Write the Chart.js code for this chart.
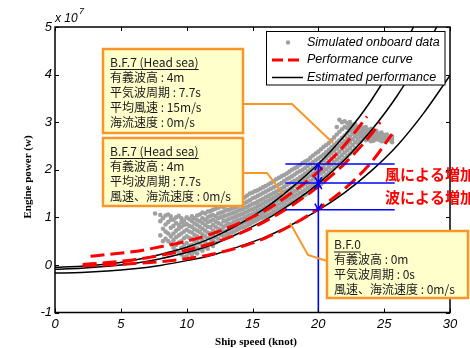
<!DOCTYPE html>
<html>
<head>
<meta charset="utf-8">
<script src="https://cdn.jsdelivr.net/npm/chart.js@4.4.1/dist/chart.umd.min.js"></script>
<style>
  html, body { margin: 0; padding: 0; background: #ffffff; }
  #wrap { width: 470px; height: 348px; position: relative; }
</style>
</head>
<body>
<div id="wrap"><canvas id="c" width="470" height="348"></canvas></div>
<script>
// Axis ticks
const xTicks = [0, 5, 10, 15, 20, 25, 30];
const yTicks = [-1, 0, 1, 2, 3, 4, 5];

// Estimated performance (black), power in units of 1e7 W
const estSpeed = [0, 2, 4, 6, 8, 10, 12, 14, 16, 18, 20, 22, 24, 26, 28, 30];
const estHigh  = [-0.05, -0.03, 0.02, 0.10, 0.22, 0.37, 0.58, 0.86, 1.20, 1.63, 2.12, 2.72, 3.45, 4.35, 5.45, 6.75];
const estMid   = [-0.09, -0.07, -0.03, 0.03, 0.13, 0.26, 0.43, 0.67, 0.95, 1.30, 1.71, 2.21, 2.82, 3.56, 4.48, 5.55];
const estLow   = [-0.17, -0.16, -0.13, -0.08, -0.01, 0.09, 0.21, 0.39, 0.59, 0.85, 1.15, 1.52, 1.97, 2.51, 3.19, 3.98];

// Performance curves (red dashed)
const perfHighSpeed = [2.7, 4, 6, 8, 10, 12, 14, 16, 18, 20, 22, 23.7];
const perfHigh      = [0.18, 0.22, 0.28, 0.38, 0.50, 0.66, 0.88, 1.15, 1.52, 1.96, 2.52, 3.12];
const perfMidSpeed  = [2.1, 4, 6, 8, 10, 12, 14, 16, 18, 20, 22, 24, 24.7];
const perfMid       = [0.01, 0.05, 0.11, 0.20, 0.31, 0.46, 0.66, 0.92, 1.25, 1.65, 2.13, 2.74, 3.00];
const perfLowSpeed  = [2.1, 4, 6, 8, 10, 12, 14, 16, 18, 20, 22, 24, 25.6];
const perfLow       = [-0.02, 0.00, 0.03, 0.07, 0.13, 0.23, 0.37, 0.57, 0.84, 1.18, 1.60, 2.15, 2.75];

// Reference levels at 20 knots (B.F.7 wind+wave, B.F.7 wave, B.F.0)
const refSpeed = 20;
const refLevels = [2.12, 1.72, 1.16];
const refSpan = [17.5, 25.8];

// Simulated onboard data [speed (knot), power (1e7 W)]
const onboardRunA = [
  [7.6,1.08],
  [8.0,1.05],[8.0,0.92],[8.0,0.62],
  [8.4,1.04],[8.4,0.85],[8.4,0.70],[8.4,0.55],
  [8.8,1.02],[8.8,0.95],[8.8,0.78],[8.8,0.60],[8.8,0.45],
  [9.2,1.00],[9.2,0.88],[9.2,0.72],[9.2,0.58],[9.2,0.42],[9.2,0.30],
  [9.6,0.98],[9.6,0.90],[9.6,0.80],[9.6,0.66],[9.6,0.50],[9.6,0.36],[9.6,0.22],
  [10.0,1.00],[10.0,0.86],[10.0,0.74],[10.0,0.60],[10.0,0.46],[10.0,0.34],[10.0,0.18],
  [10.4,1.02],[10.4,0.92],[10.4,0.80],[10.4,0.68],[10.4,0.55],[10.4,0.42],[10.4,0.30],[10.4,0.20],
  [10.8,1.04],[10.8,0.94],[10.8,0.84],[10.8,0.72],[10.8,0.60],[10.8,0.48],[10.8,0.36],[10.8,0.24],
  [11.2,1.10],[11.2,0.98],[11.2,0.88],[11.2,0.76],[11.2,0.64],[11.2,0.52],[11.2,0.40],[11.2,0.30],
  [11.6,1.12],[11.6,1.00],[11.6,0.90],[11.6,0.80],[11.6,0.68],[11.6,0.56],[11.6,0.44],[11.6,0.34],
  [12.0,1.16],[12.0,1.05],[12.0,0.95],[12.0,0.84],[12.0,0.72],[12.0,0.60],[12.0,0.50],[12.0,0.40],
  [12.4,1.20],[12.4,1.08],[12.4,0.98],[12.4,0.88],[12.4,0.76],[12.4,0.66],[12.4,0.55],
  [12.8,1.22],[12.8,1.12],[12.8,1.02],[12.8,0.92],[12.8,0.80],[12.8,0.70],[12.8,0.60],
  [13.2,1.28],[13.2,1.16],[13.2,1.06],[13.2,0.96],[13.2,0.86],[13.2,0.75],[13.2,0.65],
  [13.6,1.30],[13.6,1.20],[13.6,1.10],[13.6,1.00],[13.6,0.90],[13.6,0.80],[13.6,0.70],
  [14.0,1.36],[14.0,1.25],[14.0,1.15],[14.0,1.05],[14.0,0.95],[14.0,0.85],[14.0,0.76],
  [14.4,1.42],[14.4,1.30],[14.4,1.20],[14.4,1.10],[14.4,1.00],[14.4,0.90],[14.4,0.80],
  [14.8,1.50],[14.8,1.36],[14.8,1.25],[14.8,1.15],[14.8,1.05],[14.8,0.95],[14.8,0.86],
  [15.2,1.55],[15.2,1.42],[15.2,1.30],[15.2,1.20],[15.2,1.10],[15.2,1.00],[15.2,0.92],
  [15.6,1.60],[15.6,1.48],[15.6,1.36],[15.6,1.26],[15.6,1.16],[15.6,1.06],[15.6,0.98],
  [16.0,1.66],[16.0,1.54],[16.0,1.42],[16.0,1.32],[16.0,1.22],[16.0,1.12],[16.0,1.02],
  [16.4,1.72],[16.4,1.60],[16.4,1.48],[16.4,1.38],[16.4,1.28],[16.4,1.18],[16.4,1.08],
  [16.8,1.80],[16.8,1.66],[16.8,1.54],[16.8,1.44],[16.8,1.34],[16.8,1.24],[16.8,1.14],
  [17.2,1.86],[17.2,1.72],[17.2,1.60],[17.2,1.50],[17.2,1.40],[17.2,1.30],[17.2,1.20],
  [17.6,1.92],[17.6,1.80],[17.6,1.68],[17.6,1.56],[17.6,1.46],[17.6,1.36],[17.6,1.26],
  [18.0,2.00],[18.0,1.86],[18.0,1.74],[18.0,1.62],[18.0,1.52],[18.0,1.42],[18.0,1.32],
  [18.4,2.06],[18.4,1.94],[18.4,1.80],[18.4,1.70],[18.4,1.58],[18.4,1.48],[18.4,1.38],
  [18.8,2.14],[18.8,2.00],[18.8,1.88],[18.8,1.76],[18.8,1.66],[18.8,1.54],[18.8,1.44],
  [19.2,2.20],[19.2,2.08],[19.2,1.96],[19.2,1.84],[19.2,1.72],[19.2,1.62],[19.2,1.50],
  [19.6,2.30],[19.6,2.16],[19.6,2.04],[19.6,1.92],[19.6,1.80],[19.6,1.68],[19.6,1.58],
  [20.0,2.38],[20.0,2.24],[20.0,2.12],[20.0,2.00],[20.0,1.88],[20.0,1.76],[20.0,1.66],
  [20.4,2.48],[20.4,2.32],[20.4,2.20],[20.4,2.08],[20.4,1.96],[20.4,1.84],[20.4,1.74],
  [20.8,2.56],[20.8,2.42],[20.8,2.30],[20.8,2.18],[20.8,2.06],[20.8,1.94],
  [21.2,2.68],[21.2,2.52],[21.2,2.40],[21.2,2.28],[21.2,2.16],[21.2,2.04],
  [21.6,3.05],[21.6,2.80],[21.6,2.62],[21.6,2.50],[21.6,2.38],[21.6,2.26],[21.6,2.14],
  [22.0,3.02],[22.0,2.90],[22.0,2.72],[22.0,2.60],[22.0,2.48],[22.0,2.36],[22.0,2.24],
  [22.4,3.00],[22.4,2.92],[22.4,2.82],[22.4,2.70],[22.4,2.58],[22.4,2.46],[22.4,2.34],
  [22.8,2.96],[22.8,2.88],[22.8,2.80],[22.8,2.70],[22.8,2.58],[22.8,2.46],
  [23.2,2.92],[23.2,2.85],[23.2,2.78],[23.2,2.70],[23.2,2.60],
  [23.6,2.90],[23.6,2.82],[23.6,2.75],[23.6,2.68],[23.6,2.62],
  [24.0,2.86],[24.0,2.80],[24.0,2.72],[24.0,2.66],[24.0,2.60],
  [24.4,2.82],[24.4,2.76],[24.4,2.70],[24.4,2.64],
  [24.8,2.78],[24.8,2.72],[24.8,2.66],[24.8,2.60],
  [25.2,2.74],[25.2,2.68],[25.2,2.62],
  [25.6,2.70],[25.6,2.64],[25.6,2.58]
];
const onboardRunB = [
  [8.2,0.98],[8.2,0.76],[8.2,0.50],
  [8.6,1.06],[8.6,0.90],[8.6,0.66],[8.6,0.50],
  [9.0,0.95],[9.0,0.82],[9.0,0.66],[9.0,0.52],[9.0,0.36],
  [9.4,1.03],[9.4,0.84],[9.4,0.76],[9.4,0.62],[9.4,0.47],[9.4,0.26],
  [9.8,0.93],[9.8,0.84],[9.8,0.70],[9.8,0.56],[9.8,0.42],[9.8,0.28],[9.8,0.16],
  [10.2,0.96],[10.2,0.82],[10.2,0.70],[10.2,0.57],[10.2,0.40],[10.2,0.25],
  [10.6,0.98],[10.6,0.87],[10.6,0.75],[10.6,0.63],[10.6,0.50],[10.6,0.38],[10.6,0.27],
  [11.0,1.06],[11.0,0.92],[11.0,0.80],[11.0,0.69],[11.0,0.56],[11.0,0.45],[11.0,0.33],
  [11.4,1.08],[11.4,0.95],[11.4,0.84],[11.4,0.72],[11.4,0.60],[11.4,0.48],[11.4,0.37],
  [11.8,1.13],[11.8,1.03],[11.8,0.92],[11.8,0.79],[11.8,0.66],[11.8,0.55],[11.8,0.45],
  [12.2,1.18],[12.2,1.02],[12.2,0.91],[12.2,0.80],[12.2,0.69],[12.2,0.58],[12.2,0.47],
  [12.6,1.23],[12.6,1.10],[12.6,1.00],[12.6,0.85],[12.6,0.74],[12.6,0.63],
  [13.0,1.25],[13.0,1.15],[13.0,1.04],[13.0,0.93],[13.0,0.83],[13.0,0.71],[13.0,0.62],
  [13.4,1.31],[13.4,1.18],[13.4,1.08],[13.4,0.98],[13.4,0.87],[13.4,0.77],[13.4,0.68],
  [13.8,1.33],[13.8,1.22],[13.8,1.12],[13.8,1.02],[13.8,0.92],[13.8,0.82],[13.8,0.73],
  [14.2,1.40],[14.2,1.28],[14.2,1.17],[14.2,1.07],[14.2,0.97],[14.2,0.87],[14.2,0.78],
  [14.6,1.46],[14.6,1.33],[14.6,1.22],[14.6,1.12],[14.6,1.02],[14.6,0.92],[14.6,0.83],
  [15.0,1.52],[15.0,1.40],[15.0,1.28],[15.0,1.17],[15.0,1.07],[15.0,0.97],[15.0,0.89],
  [15.4,1.57],[15.4,1.45],[15.4,1.33],[15.4,1.23],[15.4,1.13],[15.4,1.03],[15.4,0.95],
  [15.8,1.63],[15.8,1.51],[15.8,1.39],[15.8,1.29],[15.8,1.19],[15.8,1.09],[15.8,1.00],
  [16.2,1.69],[16.2,1.57],[16.2,1.45],[16.2,1.35],[16.2,1.25],[16.2,1.15],[16.2,1.05],
  [16.6,1.76],[16.6,1.63],[16.6,1.51],[16.6,1.41],[16.6,1.31],[16.6,1.21],[16.6,1.11],
  [17.0,1.83],[17.0,1.69],[17.0,1.57],[17.0,1.47],[17.0,1.37],[17.0,1.27],[17.0,1.17],
  [17.4,1.89],[17.4,1.76],[17.4,1.64],[17.4,1.53],[17.4,1.43],[17.4,1.33],[17.4,1.23],
  [17.8,1.96],[17.8,1.83],[17.8,1.71],[17.8,1.59],[17.8,1.49],[17.8,1.39],[17.8,1.29],
  [18.2,2.03],[18.2,1.90],[18.2,1.77],[18.2,1.66],[18.2,1.55],[18.2,1.45],[18.2,1.35],
  [18.6,2.10],[18.6,1.97],[18.6,1.84],[18.6,1.73],[18.6,1.62],[18.6,1.51],[18.6,1.41],
  [19.0,2.17],[19.0,2.04],[19.0,1.92],[19.0,1.80],[19.0,1.69],[19.0,1.58],[19.0,1.47],
  [19.4,2.25],[19.4,2.12],[19.4,2.00],[19.4,1.88],[19.4,1.76],[19.4,1.65],[19.4,1.54],
  [19.8,2.34],[19.8,2.20],[19.8,2.08],[19.8,1.96],[19.8,1.84],[19.8,1.72],[19.8,1.62],
  [20.2,2.43],[20.2,2.28],[20.2,2.16],[20.2,2.04],[20.2,1.92],[20.2,1.80],[20.2,1.70],
  [20.6,2.52],[20.6,2.37],[20.6,2.25],[20.6,2.13],[20.6,2.01],[20.6,1.89],
  [21.0,2.62],[21.0,2.47],[21.0,2.35],[21.0,2.23],[21.0,2.11],[21.0,1.99],
  [21.4,2.90],[21.4,2.74],[21.4,2.57],[21.4,2.45],[21.4,2.33],[21.4,2.21],[21.4,2.09],
  [21.8,3.00],[21.8,2.85],[21.8,2.67],[21.8,2.55],[21.8,2.43],[21.8,2.31],[21.8,2.19],
  [22.2,2.98],[22.2,2.88],[22.2,2.77],[22.2,2.65],[22.2,2.53],[22.2,2.41],[22.2,2.29],
  [22.6,2.94],[22.6,2.86],[22.6,2.76],[22.6,2.64],[22.6,2.52],[22.6,2.40],
  [23.0,2.90],[23.0,2.83],[23.0,2.75],[23.0,2.65],[23.0,2.55],
  [23.4,2.88],[23.4,2.80],[23.4,2.72],[23.4,2.65],
  [23.8,2.84],[23.8,2.77],[23.8,2.70],[23.8,2.63],
  [24.2,2.80],[24.2,2.74],[24.2,2.67],[24.2,2.61],
  [24.6,2.76],[24.6,2.70],[24.6,2.63],
  [25.0,2.73],[25.0,2.66],[25.0,2.60],
  [25.4,2.70],[25.4,2.63]
];

const pts = (xs, ys) => xs.map((x, i) => ({ x: x, y: ys[i] }));
const pairs = list => list.map(p => ({ x: p[0], y: p[1] }));

const datasets = [
  { label: 'Simulated onboard data', data: pairs(onboardRunA.concat(onboardRunB)),
    showLine: false, pointRadius: 2.3, pointBackgroundColor: '#a0a0a0', pointBorderWidth: 0, order: 4 },
  ...[estHigh, estMid, estLow].map(ys => ({
    label: 'Estimated performance', data: pts(estSpeed, ys), showLine: true, pointRadius: 0,
    borderColor: '#000000', borderWidth: 1.5, tension: 0.4, cubicInterpolationMode: 'monotone', order: 3 })),
  ...[[perfHighSpeed, perfHigh], [perfMidSpeed, perfMid], [perfLowSpeed, perfLow]].map(([xs, ys]) => ({
    label: 'Performance curve', data: pts(xs, ys), showLine: true, pointRadius: 0,
    borderColor: '#ff0000', borderWidth: 3, borderDash: [14, 6], tension: 0.4, cubicInterpolationMode: 'monotone', order: 2 })),
  ...refLevels.map(v => ({
    label: 'level', data: [{ x: refSpan[0], y: v }, { x: refSpan[1], y: v }], showLine: true, pointRadius: 0,
    borderColor: '#0000ff', borderWidth: 1.6, order: 1 })),
  { label: 'speed', data: [{ x: refSpeed, y: refLevels[0] }, { x: refSpeed, y: -1 }], showLine: true, pointRadius: 0,
    borderColor: '#0000ff', borderWidth: 1.6, order: 1 }
];

const JP = '"Noto Sans CJK JP", "Noto Sans", sans-serif';
const ORANGE = '#fa9628';

function arrowHead(ctx, x, y, dir) {
  // dir: -1 points up, +1 points down
  ctx.beginPath();
  ctx.moveTo(x - 3.5, y - dir * 6);
  ctx.lineTo(x, y);
  ctx.lineTo(x + 3.5, y - dir * 6);
  ctx.stroke();
}

function noteBox(ctx, x0, y0, x1, y1, lines, tx, ty, gap) {
  ctx.save();
  ctx.fillStyle = '#ffffcc';
  ctx.fillRect(x0, y0, x1 - x0, y1 - y0);
  ctx.strokeStyle = ORANGE;
  ctx.lineWidth = 2.5;
  ctx.strokeRect(x0, y0, x1 - x0, y1 - y0);
  ctx.fillStyle = '#1a1a1a';
  ctx.font = '12px ' + JP;
  ctx.textBaseline = 'middle';
  ctx.textAlign = 'left';
  lines.forEach((t, i) => {
    const y = ty + i * gap;
    ctx.fillText(t, tx, y);
    if (i === 0) {
      const w = ctx.measureText(t).width;
      ctx.fillRect(tx, y + 7, w, 1);
    }
  });
  ctx.restore();
}

function polyline(ctx, pts, color, width) {
  ctx.save();
  ctx.strokeStyle = color;
  ctx.lineWidth = width;
  ctx.beginPath();
  pts.forEach((p, i) => i ? ctx.lineTo(p[0], p[1]) : ctx.moveTo(p[0], p[1]));
  ctx.stroke();
  ctx.restore();
}

const decorations = {
  id: 'decorations',
  afterDatasetsDraw(chart) {
    const ctx = chart.ctx;
    const a = chart.chartArea;
    const xs = chart.scales.x, ys = chart.scales.y;

    // frame and inward ticks
    ctx.save();
    ctx.strokeStyle = '#000000';
    ctx.lineWidth = 1.5;
    ctx.strokeRect(a.left, a.top, a.right - a.left, a.bottom - a.top);
    ctx.lineWidth = 1;
    ctx.beginPath();
    xTicks.forEach(t => {
      const px = Math.round(xs.getPixelForValue(t)) + 0.5;
      ctx.moveTo(px, a.bottom); ctx.lineTo(px, a.bottom - 4);
      ctx.moveTo(px, a.top); ctx.lineTo(px, a.top + 4);
    });
    yTicks.forEach(t => {
      const py = Math.round(ys.getPixelForValue(t)) + 0.5;
      ctx.moveTo(a.left, py); ctx.lineTo(a.left + 4, py);
      ctx.moveTo(a.right, py); ctx.lineTo(a.right - 4, py);
    });
    ctx.stroke();
    ctx.restore();

    // double arrows at 20 knots
    ctx.save();
    ctx.strokeStyle = '#0000ff';
    ctx.lineWidth = 1.6;
    const ax = xs.getPixelForValue(refSpeed);
    const l0 = ys.getPixelForValue(refLevels[0]);
    const l1 = ys.getPixelForValue(refLevels[1]);
    const l2 = ys.getPixelForValue(refLevels[2]);
    arrowHead(ctx, ax, l0, -1);
    arrowHead(ctx, ax, l1, 1);
    arrowHead(ctx, ax, l1, -1);
    arrowHead(ctx, ax, l2, 1);
    ctx.restore();

    // connector lines
    polyline(ctx, [[243, 104], [292, 104], [333, 143]], ORANGE, 2);
    polyline(ctx, [[243, 173], [267, 173], [283, 194]], ORANGE, 2);
    polyline(ctx, [[327, 261], [308, 255], [290, 223]], ORANGE, 2);

    // condition boxes
    noteBox(ctx, 103, 49, 243, 133,
      ['B.F.7 (Head sea)', '有義波高 : 4m', '平気波周期 : 7.7s', '平均風速 : 15m/s', '海流速度 : 0m/s'],
      110, 62, 15.2);
    noteBox(ctx, 103, 138, 243, 206,
      ['B.F.7 (Head sea)', '有義波高 : 4m', '平均波周期 : 7.7s', '風速、海流速度 : 0m/s'],
      110, 151, 15);
    noteBox(ctx, 327, 231, 468, 298,
      ['B.F.0', '有義波高 : 0m', '平気波周期 : 0s', '風速、海流速度 : 0m/s'],
      334, 244.5, 15);

    // increase labels
    ctx.save();
    ctx.fillStyle = '#ff0000';
    ctx.font = 'bold 15px ' + JP;
    ctx.textBaseline = 'middle';
    ctx.fillText('風による増加', 385, 174);
    ctx.fillText('波による増加', 385, 197);
    ctx.restore();

    // legend
    ctx.save();
    ctx.fillStyle = '#ffffff';
    ctx.fillRect(266, 31.5, 179, 53.5);
    ctx.strokeStyle = '#000000';
    ctx.lineWidth = 1;
    ctx.strokeRect(266.5, 31.5, 178.5, 53.5);
    ctx.fillStyle = '#a0a0a0';
    ctx.beginPath(); ctx.arc(288, 42.5, 2.2, 0, Math.PI * 2); ctx.fill();
    ctx.strokeStyle = '#ff0000'; ctx.lineWidth = 3; ctx.setLineDash([11, 5]);
    ctx.beginPath(); ctx.moveTo(272, 60); ctx.lineTo(303, 60); ctx.stroke();
    ctx.setLineDash([]);
    ctx.strokeStyle = '#000000'; ctx.lineWidth = 1.5;
    ctx.beginPath(); ctx.moveTo(272, 77.5); ctx.lineTo(303, 77.5); ctx.stroke();
    ctx.fillStyle = '#000000';
    ctx.font = 'italic 12.5px "Liberation Sans", Arial, sans-serif';
    ctx.textBaseline = 'middle';
    ctx.fillText('Simulated onboard data', 307, 43);
    ctx.fillText('Performance curve', 307, 60);
    ctx.fillText('Estimated performance', 307, 77.5);
    ctx.restore();

    // exponent label
    ctx.save();
    ctx.fillStyle = '#000000';
    ctx.font = 'italic 12px "Liberation Sans", Arial, sans-serif';
    ctx.textBaseline = 'alphabetic';
    ctx.fillText('x 10', 55, 22);
    ctx.font = 'italic 9px "Liberation Sans", Arial, sans-serif';
    ctx.fillText('7', 79, 14);
    ctx.restore();

    // axis titles
    ctx.save();
    ctx.fillStyle = '#000000';
    ctx.font = 'bold 11px "Liberation Serif", "Times New Roman", serif';
    ctx.textAlign = 'center';
    ctx.textBaseline = 'middle';
    ctx.fillText('Ship speed (knot)', 256, 342);
    ctx.translate(28.5, 177);
    ctx.rotate(-Math.PI / 2);
    ctx.fillText('Engine power (w)', 0, 0);
    ctx.restore();
  }
};

const tickFont = { family: '"Liberation Sans", Arial, sans-serif', size: 13, style: 'italic' };

new Chart(document.getElementById('c'), {
  type: 'scatter',
  data: { datasets: datasets },
  options: {
    responsive: false,
    devicePixelRatio: 1,
    animation: false,
    layout: { padding: { left: 0, top: 27, right: 20, bottom: 0 } },
    plugins: { legend: { display: false }, tooltip: { enabled: false } },
    scales: {
      x: {
        type: 'linear', min: 0, max: 30,
        afterBuildTicks: s => { s.ticks = xTicks.map(v => ({ value: v })); },
        afterFit: s => { s.height = 35.5; },
        grid: { display: false, drawTicks: false },
        border: { display: false },
        ticks: { font: tickFont, color: '#000000', padding: 4, maxRotation: 0 }
      },
      y: {
        type: 'linear', min: -1, max: 5,
        afterBuildTicks: s => { s.ticks = yTicks.map(v => ({ value: v })); },
        afterFit: s => { s.width = 55; },
        grid: { display: false, drawTicks: false },
        border: { display: false },
        ticks: { font: tickFont, color: '#000000', padding: 3 }
      }
    }
  },
  plugins: [decorations]
});
</script>
</body>
</html>
